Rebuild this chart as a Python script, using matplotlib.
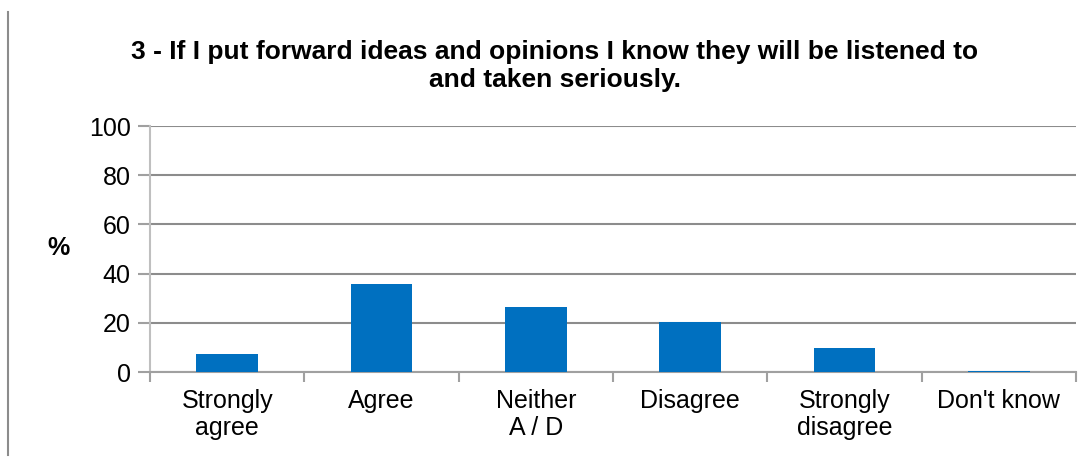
import matplotlib
matplotlib.use("Agg")
import matplotlib.pyplot as plt
from matplotlib.lines import Line2D

categories = ["Strongly\nagree", "Agree", "Neither\nA / D", "Disagree", "Strongly\ndisagree", "Don't know"]
values = [7.3, 35.8, 26.5, 20.3, 9.8, 0.3]
yticks = [0, 20, 40, 60, 80, 100]
title = "3 - If I put forward ideas and opinions I know they will be listened to\nand taken seriously."

plt.rcParams['font.family'] = ['Liberation Sans', 'DejaVu Sans']

W, H = 1092, 459
fig = plt.figure(figsize=(W / 100, H / 100), dpi=100)
x0, x1, yb, yt = 150, 1076, 372, 126
ax = fig.add_axes([x0 / W, 1 - yb / H, (x1 - x0) / W, (yb - yt) / H])

xs = list(range(len(categories)))
ax.bar(xs, values, width=0.40, color="#0070C0", zorder=3)
ax.set_xlim(-0.5, len(categories) - 0.5)
ax.set_ylim(0, 100)
ax.set_yticks(yticks)
ax.set_yticklabels([str(t) for t in yticks], fontsize=18)
ax.yaxis.grid(True, color="#8c8c8c", linewidth=1.5, zorder=0)
ax.set_axisbelow(True)

ax.set_xticks([i + 0.5 for i in range(-1, len(categories))])
ax.set_xticklabels([])
ax.set_xticks(xs, minor=True)
ax.set_xticklabels(categories, minor=True, fontsize=18, linespacing=1.15)
ax.tick_params(axis='x', which='minor', length=0, pad=12)
ax.tick_params(axis='x', which='major', length=7, width=1.5, color="#a0a0a0")
ax.tick_params(axis='y', length=9, width=1.5, color="#a0a0a0", pad=5)

for s in ["top", "right"]:
    ax.spines[s].set_visible(False)
ax.spines["left"].set_color("#bfbfbf")
ax.spines["left"].set_linewidth(1.5)
ax.spines["bottom"].set_color("#a0a0a0")
ax.spines["bottom"].set_linewidth(1.5)

fig.text(555 / W, 1 - 66 / H, title, ha="center", va="center", fontsize=19,
         fontweight="bold", linespacing=1.2)
fig.text(58 / W, 1 - 248 / H, "%", ha="center", va="center", fontsize=18, fontweight="bold")

fig.add_artist(Line2D([8 / W, 8 / W], [1 - 12 / H, 1 - 455 / H], color="#8c8c8c", linewidth=1.5,
                      transform=fig.transFigure))

fig.savefig("out.png", dpi=100)
